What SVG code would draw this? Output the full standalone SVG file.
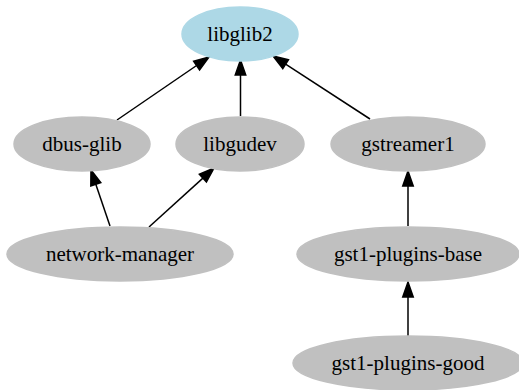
<svg xmlns="http://www.w3.org/2000/svg" width="519" height="390" viewBox="0 0 519 390">
<style>
.n ellipse{fill:#c0c0c0;stroke:#c0c0c0;stroke-width:1.5}
.n.root ellipse{fill:#add8e6;stroke:#add8e6}
text{font-family:"Liberation Serif","Times New Roman",serif;font-size:21px;fill:#000;text-anchor:middle}
.e line{stroke:#000;stroke-width:1.5;marker-end:url(#ah)}
</style>
<defs>
<marker id="ah" markerUnits="userSpaceOnUse" orient="auto" refX="0" refY="0" markerWidth="16" markerHeight="12" viewBox="0 -6 16 12" overflow="visible">
<path d="M0,-5.25 L15,0 L0,5.25 Z" fill="#000" stroke="#000" stroke-width="1.5"/>
</marker>
</defs>
<rect width="519" height="390" fill="#fff"/>
<g id="edges" class="e">
<line x1="117" y1="120" x2="196.6" y2="65.5"/>
<line x1="240.5" y1="116" x2="240.5" y2="75"/>
<line x1="370" y1="119" x2="285.6" y2="64.2"/>
<line x1="110" y1="226" x2="95.8" y2="184.2"/>
<line x1="149" y1="227" x2="202.9" y2="178.1"/>
<line x1="408" y1="226" x2="408" y2="186"/>
<line x1="408" y1="336" x2="408" y2="297"/>
</g>
<g id="libglib2" class="n root"><ellipse cx="240" cy="34" rx="58" ry="27"/><text x="240" y="41">libglib2</text></g>
<g id="dbus-glib" class="n"><ellipse cx="82" cy="144" rx="68" ry="27"/><text x="82" y="151">dbus-glib</text></g>
<g id="libgudev" class="n"><ellipse cx="240" cy="144" rx="64" ry="27"/><text x="240" y="151">libgudev</text></g>
<g id="gstreamer1" class="n"><ellipse cx="408" cy="144" rx="77" ry="27"/><text x="408" y="151">gstreamer1</text></g>
<g id="network-manager" class="n"><ellipse cx="120" cy="254" rx="113" ry="27"/><text x="120" y="261">network-manager</text></g>
<g id="gst1-plugins-base" class="n"><ellipse cx="408" cy="254" rx="111" ry="27"/><text x="408" y="261">gst1-plugins-base</text></g>
<g id="gst1-plugins-good" class="n"><ellipse cx="408" cy="363" rx="115" ry="27"/><text x="408" y="370">gst1-plugins-good</text></g>
</svg>
